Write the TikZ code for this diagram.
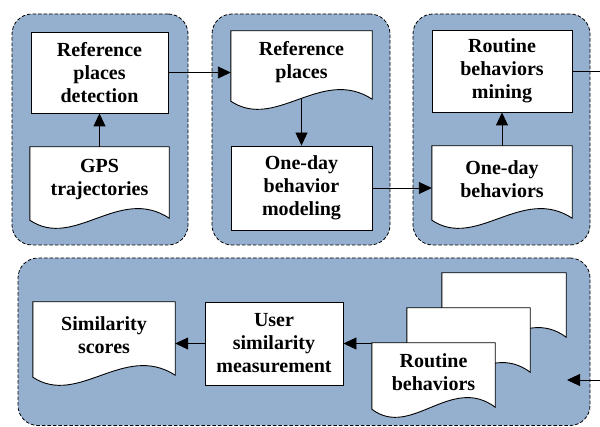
\documentclass[tikz,border=0pt]{standalone}
\usepackage{fontspec}
\setmainfont{Liberation Serif}
\usetikzlibrary{arrows.meta,calc,backgrounds}
\pgfdeclarelayer{docs}
\pgfsetlayers{background,docs,main}
\definecolor{grpblue}{RGB}{149,176,207}
\tikzset{
  grp/.style={draw=black, dash pattern=on 3.5pt off 2pt, fill=grpblue, rounded corners=20pt, line width=0.8pt, inner sep=0pt},
  procbox/.style={draw=black, fill=white, line width=0.9pt, align=center, inner sep=0pt,
    font=\fontsize{20}{23}\selectfont\bfseries},
  doctext/.style={align=center, inner sep=0pt, font=\fontsize{20}{23}\selectfont\bfseries},
  docline/.style={draw=black, fill=white, line width=0.9pt},
  flow/.style={line width=0.9pt, -{Triangle[length=13pt,width=12pt]}},
  plainline/.style={line width=0.9pt}
}
% document shape: node rectangle ends 6pt above the right end of the wave
\newcommand\wavedoc[2]{%
  \path[docline] ([yshift=-6pt]#1.south east) -- (#1.north east) -- (#1.north west) -- ([yshift=-8pt]#1.south west)
    .. controls +(0.32*#2,30) and +(-0.36*#2,-33) .. ([yshift=-6pt]#1.south east) -- cycle;}
\begin{document}
\begin{tikzpicture}[x=1pt,y=-1pt]
\useasboundingbox (0,0) rectangle (600,427);
% groups
\begin{pgfonlayer}{background}
\node[grp, minimum width=176pt, minimum height=231pt] (g1) at (100,129.5) {};
\node[grp, minimum width=178pt, minimum height=231pt] (g2) at (301,129.5) {};
\node[grp, minimum width=177pt, minimum height=231pt] (g3) at (501.5,129.5) {};
\node[grp, minimum width=572pt, minimum height=167.5pt] (g4) at (304,341.75) {};
\end{pgfonlayer}
% group 1
\node[procbox, minimum width=137pt, minimum height=81pt] (rpd) at (99.5,72.5) {Reference\\places\\detection};
\node[doctext, minimum width=139pt, minimum height=65pt] (gps) at (99.5,179.5) {GPS\\trajectories};
% group 2
\node[doctext, minimum width=141pt, minimum height=62pt] (refp) at (301.5,62) {Reference\\places};
\node[procbox, minimum width=141pt, minimum height=84pt] (odbm) at (301.5,188) {One-day\\behavior\\modeling};
% group 3
\node[procbox, minimum width=140pt, minimum height=82pt] (rbm) at (502,71) {Routine\\behaviors\\mining};
\node[doctext, minimum width=140pt, minimum height=66pt] (odb) at (502,179) {One-day\\behaviors};
% group 4
\node[doctext, minimum width=142pt, minimum height=67pt] (sim) at (104,335.5) {Similarity\\scores};
\node[procbox, minimum width=138pt, minimum height=83pt] (usm) at (274,343.5) {User\\similarity\\measurement};
\node[doctext, minimum width=124pt, minimum height=58pt] (rbback) at (504,302) {};
\node[doctext, minimum width=123pt, minimum height=58pt] (rbmid) at (468.5,337) {};
\node[doctext, minimum width=123pt, minimum height=58pt] (rbfront) at (433.5,372) {Routine\\behaviors};
% document shapes
\begin{pgfonlayer}{docs}
\wavedoc{gps}{139}
\wavedoc{refp}{141}
\wavedoc{odb}{140}
\wavedoc{sim}{142}
\wavedoc{rbback}{124}
\wavedoc{rbmid}{123}
\draw[flow] (usm.east -| rbmid.west) -- (usm.east);
\wavedoc{rbfront}{123}
\end{pgfonlayer}
% connectors
\coordinate (exitR) at (600,71);
\coordinate (entryR) at (600,380);
\coordinate (entryTip) at (567,380);
\draw[flow] (gps.north) -- (rpd.south);
\draw[flow] (rpd.east) -- (rpd.east -| refp.west);
\draw[flow] ([yshift=-6pt]refp.south) -- (odbm.north);
\draw[flow] (odbm.east) -- (odbm.east -| odb.west);
\draw[flow] (odb.north) -- (rbm.south);
\draw[plainline] (rbm.east) -- (exitR);
\draw[flow] (entryR) -- (entryTip);
\draw[flow] (usm.west) -- (usm.west -| sim.east);
\end{tikzpicture}
\end{document}
